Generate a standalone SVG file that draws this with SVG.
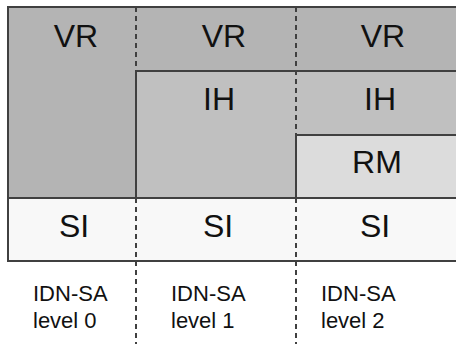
<svg xmlns="http://www.w3.org/2000/svg" width="456" height="344" viewBox="0 0 456 344">
<style>
.b{stroke:#404040;stroke-width:2}
.d{stroke:#404040;stroke-width:2;stroke-dasharray:5 4;fill:none}
.t{font-family:"Liberation Sans",Arial,sans-serif;font-size:32px;fill:#111;text-anchor:middle}
.s{font-family:"Liberation Sans",Arial,sans-serif;font-size:22px;fill:#111}
</style>
<rect width="456" height="344" fill="#fff"/>
<g id="vr">
<rect x="8" y="7" width="460" height="191" fill="#b4b4b4"/>
<text class="t" x="76" y="47">VR</text>
<text class="t" x="224" y="47">VR</text>
<text class="t" x="383" y="47">VR</text>
</g>
<g id="ih">
<rect x="136" y="71" width="332" height="127" fill="#c0c0c0" class="b"/>
<text class="t" x="219" y="110">IH</text>
<text class="t" x="380" y="110">IH</text>
</g>
<g id="rm">
<rect x="296" y="135" width="172" height="63" fill="#dcdcdc" class="b"/>
<text class="t" x="377" y="173">RM</text>
</g>
<g id="si">
<rect x="8" y="198" width="460" height="63" fill="#f8f8f8" class="b"/>
<text class="t" x="74" y="237">SI</text>
<text class="t" x="218" y="237">SI</text>
<text class="t" x="375" y="237">SI</text>
</g>
<g id="outline">
<path d="M456 7 H8 V198" class="b" fill="none"/>
</g>
<g id="connectors">
<line x1="136" y1="7" x2="136" y2="71" class="d"/>
<line x1="296" y1="7" x2="296" y2="135" class="d"/>
<line x1="136" y1="198" x2="136" y2="344" class="d"/>
<line x1="296" y1="198" x2="296" y2="344" class="d"/>
</g>
<g id="labels">
<text class="s" x="33" y="301">IDN-SA</text>
<text class="s" x="33" y="328">level 0</text>
<text class="s" x="171" y="301">IDN-SA</text>
<text class="s" x="171" y="328">level 1</text>
<text class="s" x="321" y="301">IDN-SA</text>
<text class="s" x="321" y="328">level 2</text>
</g>
</svg>
